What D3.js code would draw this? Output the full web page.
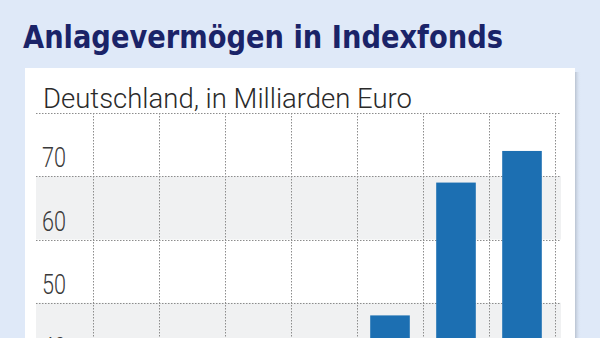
<!DOCTYPE html>
<html lang="de">
<head>
<meta charset="UTF-8">
<title>Anlagevermögen in Indexfonds</title>
<script src="https://d3js.org/d3.v7.min.js"></script>
<style>
  html, body { margin: 0; padding: 0; background: #dfe9f8; overflow: hidden; }
  svg { display: block; }
</style>
</head>
<body>
<script>
// Data (last three bars, earlier ones lie below the visible crop)
const years = ["2006", "2007", "2008", "2009", "2010", "2011", "2012"];
const values = [14, 21, 28, 36, 48, 69, 74];
const yTicks = [40, 50, 60, 70];
const bands = [[0, 10], [20, 30], [40, 50], [60, 70]];

const title = "Anlagevermögen in Indexfonds";
const subtitle = "Deutschland, in Milliarden Euro";

const W = 600, H = 338;

const svg = d3.select("body").append("svg")
    .attr("width", W)
    .attr("height", H);

// white panel with a soft shadow on the right
const shadow = svg.append("defs").append("linearGradient")
    .attr("id", "shadow")
    .attr("x1", "0%").attr("x2", "100%");
shadow.append("stop").attr("offset", "0%").attr("stop-color", "#9aa3b0").attr("stop-opacity", 0.55);
shadow.append("stop").attr("offset", "100%").attr("stop-color", "#dfe9f8").attr("stop-opacity", 0);

svg.append("rect")
    .attr("x", 575).attr("y", 72)
    .attr("width", 6).attr("height", H)
    .attr("fill", "url(#shadow)");

svg.append("rect")
    .attr("x", 25).attr("y", 68)
    .attr("width", 550).attr("height", H)
    .attr("fill", "#ffffff");

// title
svg.append("text")
    .attr("x", 23).attr("y", 48)
    .attr("font-family", "'DejaVu Sans Condensed', Roboto, 'Noto Sans', sans-serif")
    .attr("font-weight", "bold")
    .attr("font-size", 32)
    .attr("fill", "#1a2368")
    .attr("textLength", 480)
    .attr("lengthAdjust", "spacingAndGlyphs")
    .text(title);

// subtitle
svg.append("text")
    .attr("x", 43).attr("y", 108)
    .attr("font-family", "Roboto, 'Noto Sans', sans-serif")
    .attr("font-weight", 300)
    .attr("font-size", 27)
    .attr("fill", "#2a2a2a")
    .attr("textLength", 369)
    .attr("lengthAdjust", "spacingAndGlyphs")
    .text(subtitle);

// scales
const x = d3.scaleBand()
    .domain(years)
    .range([93, 555])
    .padding(0);

const y = d3.scaleLinear()
    .domain([0, 80])
    .range([619, 113]);

const gridLeft = 36, gridRight = 561;

// shaded bands
svg.append("g").selectAll("rect")
    .data(bands)
    .join("rect")
    .attr("x", gridLeft)
    .attr("y", d => y(d[1]))
    .attr("width", gridRight - gridLeft)
    .attr("height", d => y(d[0]) - y(d[1]))
    .attr("fill", "#f0f1f2");

// horizontal dotted gridlines
const hLines = d3.range(0, 90, 10);
svg.append("g").selectAll("line")
    .data(hLines)
    .join("line")
    .attr("x1", gridLeft).attr("x2", gridRight)
    .attr("y1", d => Math.round(y(d)) + 0.5)
    .attr("y2", d => Math.round(y(d)) + 0.5)
    .attr("stroke", "#8c8c8c")
    .attr("stroke-width", 1)
    .attr("stroke-dasharray", "1.5,1.5");

// vertical dotted gridlines at column boundaries
const vLines = years.map(d => x(d)).concat([x.range()[1]]);
svg.append("g").selectAll("line")
    .data(vLines)
    .join("line")
    .attr("x1", d => Math.round(d) + 0.5).attr("x2", d => Math.round(d) + 0.5)
    .attr("y1", y(80)).attr("y2", y(0))
    .attr("stroke", "#8c8c8c")
    .attr("stroke-width", 1)
    .attr("stroke-dasharray", "1.5,1.5");

// bars
const barW = x.bandwidth() * 0.6;
svg.append("g").selectAll("rect")
    .data(years.map((yr, i) => ({ yr, v: values[i] })))
    .join("rect")
    .attr("x", d => x(d.yr) + (x.bandwidth() - barW) / 2)
    .attr("y", d => y(d.v))
    .attr("width", barW)
    .attr("height", d => y(0) - y(d.v))
    .attr("fill", "#1c6fb2");

// y tick labels, sitting just above their gridline
svg.append("g").selectAll("text")
    .data(yTicks)
    .join("text")
    .attr("x", 42)
    .attr("y", d => y(d) - 9)
    .attr("font-family", "Roboto, 'Noto Sans', sans-serif")
    .attr("font-weight", 300)
    .attr("font-size", 27)
    .attr("fill", "#3a3a3a")
    .attr("textLength", 24)
    .attr("lengthAdjust", "spacingAndGlyphs")
    .text(d => d);
</script>
</body>
</html>
